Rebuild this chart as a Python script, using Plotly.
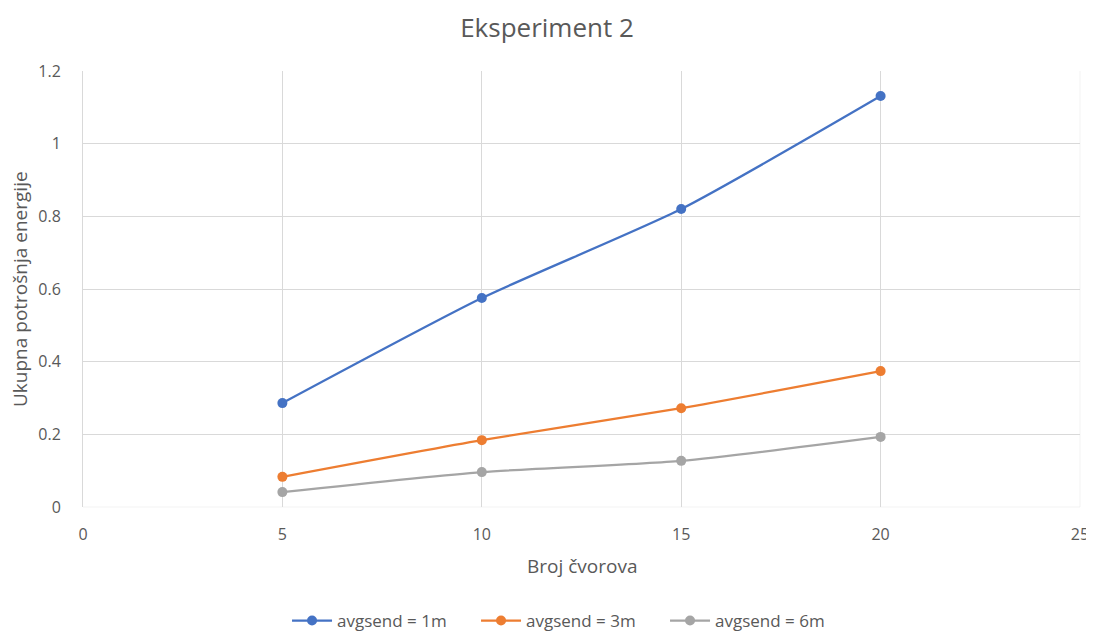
import plotly.graph_objects as go

# broj cvorova
broj_cvorova = [5, 10, 15, 20]

# ukupna potrosnja energije po seriji
avgsend_1m = [0.286, 0.575, 0.820, 1.131]
avgsend_3m = [0.083, 0.184, 0.272, 0.374]
avgsend_6m = [0.041, 0.096, 0.127, 0.193]

serije = [
    ("avgsend = 1m", avgsend_1m, "#4472C4"),
    ("avgsend = 3m", avgsend_3m, "#ED7D31"),
    ("avgsend = 6m", avgsend_6m, "#A5A5A5"),
]

fig = go.Figure()
for ime, vrijednosti, boja in serije:
    fig.add_trace(go.Scatter(
        x=broj_cvorova, y=vrijednosti, name=ime,
        mode="lines+markers",
        line=dict(color=boja, width=2.25, shape="spline", smoothing=0.6),
        marker=dict(color=boja, size=10),
    ))

tekst = "#595959"
mreza = "#D9D9D9"
fig.update_layout(
    width=1094, height=631,
    template="simple_white",
    font=dict(family="Open Sans", color=tekst, size=16),
    title=dict(text="Eksperiment 2", x=0.4927, xanchor="center", y=0.968,
               yanchor="middle", font=dict(size=26, color=tekst)),
    margin=dict(l=75, r=22, t=63, b=132),
    xaxis=dict(range=[0, 25], dtick=5, showgrid=True, gridcolor=mreza,
               showline=False, ticks="", zeroline=False, automargin=False,
               ticklabelstandoff=16, tickfont=dict(size=16)),
    yaxis=dict(range=[0, 1.2], dtick=0.2, showgrid=True, gridcolor=mreza,
               showline=True, linecolor=mreza, ticks="", zeroline=False,
               automargin=False, tickformat="~g", ticklabelstandoff=18,
               tickfont=dict(size=16)),
    legend=dict(orientation="h", x=0.489, xanchor="center", yref="container",
                y=0.0285, yanchor="middle", font=dict(size=17),
                itemwidth=40, entrywidth=134, entrywidthmode="pixels"),
    annotations=[
        dict(text="Broj čvorova", xref="paper", yref="paper", x=0.5, y=-0.135,
             yanchor="middle", showarrow=False, font=dict(size=19, color=tekst)),
        dict(text="Ukupna potrošnja energije", xref="paper", yref="paper",
             x=-0.0632, y=0.5, xanchor="center", yanchor="middle",
             textangle=-90, showarrow=False, font=dict(size=19, color=tekst)),
    ],
)
fig.add_shape(type="line", xref="paper", yref="paper", x0=0, x1=1, y0=0, y1=0,
              line=dict(color=mreza, width=1))
fig.add_shape(type="line", xref="paper", yref="paper", x0=1, x1=1, y0=0, y1=1,
              line=dict(color=mreza, width=1))

fig.write_html("out.html")
